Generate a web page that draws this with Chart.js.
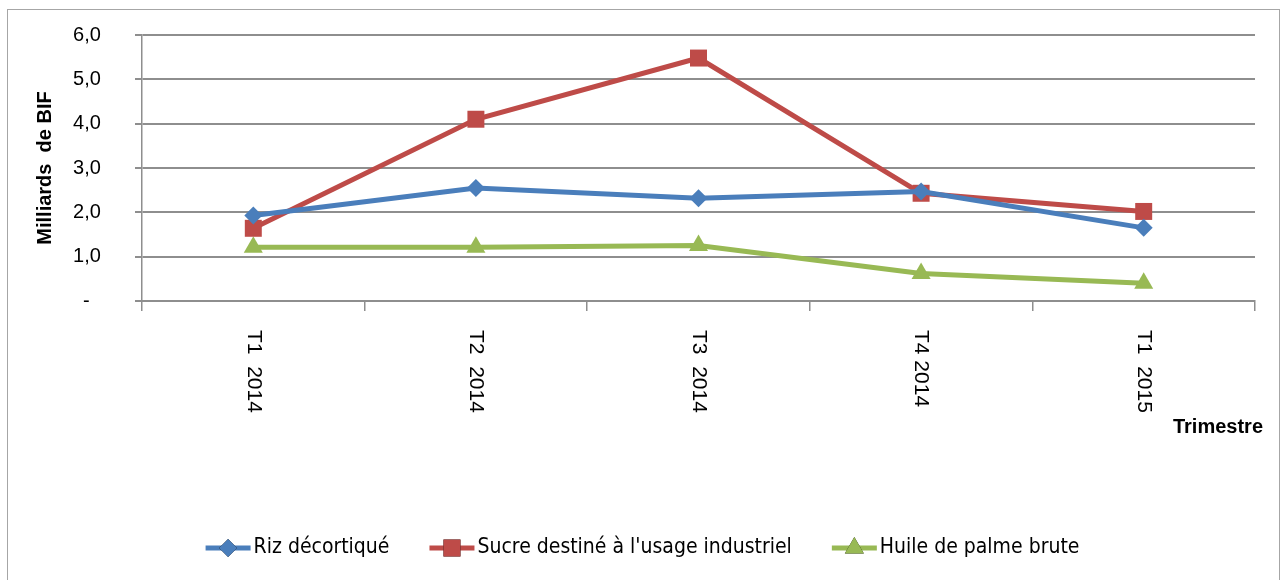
<!DOCTYPE html>
<html>
<head>
<meta charset="utf-8">
<script src="https://cdn.jsdelivr.net/npm/chart.js@4"></script>
<style>
  html, body { margin: 0; padding: 0; background: #fff; }
  #wrap { position: relative; width: 1285px; height: 580px; }
  #frame { position: absolute; left: 7px; top: 9px; width: 1273px; height: 580px; border: 1px solid #a6a6a6; box-sizing: border-box; }
  canvas { position: absolute; left: 0; top: 0; }
</style>
</head>
<body>
<div id="wrap">
  <div id="frame"></div>
  <canvas id="chart" width="1285" height="580"></canvas>
</div>
<script>
// data
const categories = ['T1  2014', 'T2  2014', 'T3  2014', 'T4 2014', 'T1  2015'];
const riz = [1.93, 2.55, 2.32, 2.47, 1.65];
const sucre = [1.64, 4.10, 5.48, 2.43, 2.02];
const huile = [1.21, 1.21, 1.25, 0.62, 0.40];
const yTicks = [0, 1, 2, 3, 4, 5, 6];

const seriesNames = ['Riz décortiqué', "Sucre destiné à l'usage industriel", 'Huile de palme brute'];
const colors = ['#4a7ebb', '#be4b48', '#98b954'];

const fam = "'Liberation Sans', Arial, sans-serif";
const tickFont = { family: fam, size: 20 };
const legendFont = "21px 'Liberation Sans Narrow', 'DejaVu Sans Condensed', sans-serif";
const gridColor = '#8e8e8e';

// rotated x labels, Trimestre, and the line+marker legend
const extras = {
  id: 'extras',
  afterDraw(chart) {
    const ctx = chart.ctx;
    const xs = chart.scales.x;
    const area = chart.chartArea;
    ctx.save();
    ctx.fillStyle = '#000';
    ctx.font = '21px ' + fam;
    ctx.textAlign = 'left';
    ctx.textBaseline = 'middle';
    categories.forEach((lab, i) => {
      const x = xs.getPixelForValue(i);
      ctx.save();
      ctx.translate(x, area.bottom + 29);
      ctx.rotate(Math.PI / 2);
      ctx.fillText(lab, 0, 0);
      ctx.restore();
    });

    ctx.font = 'bold 20px ' + fam;
    ctx.textAlign = 'right';
    ctx.fillText('Trimestre', area.right + 8, area.bottom + 126);

    // legend
    ctx.font = legendFont;
    ctx.textBaseline = 'middle';
    ctx.textAlign = 'left';
    const lineLen = 45, gapText = 3, gapItem = 40;
    const widths = chart.data.datasets.map(ds => lineLen + gapText + ctx.measureText(ds.label).width);
    const total = widths.reduce((a, b) => a + b, 0) + gapItem * (widths.length - 1);
    let x = (chart.width - total) / 2;
    const y = 548;
    chart.data.datasets.forEach((ds, i) => {
      ctx.strokeStyle = ds.borderColor;
      ctx.lineWidth = 5;
      ctx.beginPath();
      ctx.moveTo(x, y);
      ctx.lineTo(x + lineLen, y);
      ctx.stroke();
      Chart.helpers.drawPoint(ctx, {
        pointStyle: ds.pointStyle,
        radius: ds.pointRadius,
        borderWidth: 0,
        rotation: 0
      }, x + lineLen / 2, y);
      ctx.fillStyle = ds.borderColor;
      ctx.fill();
      ctx.fillStyle = '#000';
      ctx.fillText(ds.label, x + lineLen + gapText, y);
      x += widths[i] + gapItem;
    });
    ctx.restore();
  }
};

function mk(name, data, color, style, r) {
  return {
    label: name,
    data: data,
    borderColor: color,
    backgroundColor: color,
    borderWidth: 5,
    pointStyle: style,
    pointRadius: r,
    pointHoverRadius: r,
    pointBorderWidth: 0,
    tension: 0
  };
}

new Chart(document.getElementById('chart'), {
  type: 'line',
  data: {
    labels: categories,
    datasets: [
      mk(seriesNames[0], riz, colors[0], 'rectRot', 9),
      mk(seriesNames[1], sucre, colors[1], 'rect', 12),
      mk(seriesNames[2], huile, colors[2], 'triangle', 11)
    ]
  },
  options: {
    responsive: false,
    animation: false,
    layout: { padding: { left: 33, right: 30, top: 35, bottom: 0 } },
    plugins: {
      legend: { display: false },
      tooltip: { enabled: false }
    },
    scales: {
      x: {
        offset: true,
        grid: { offset: true, drawOnChartArea: false, color: gridColor, lineWidth: 1.5, tickLength: 10 },
        border: { color: gridColor, width: 2 },
        ticks: { display: false },
        afterFit(scale) { scale.height = 279; }
      },
      y: {
        min: 0,
        max: 6,
        afterBuildTicks(scale) { scale.ticks = yTicks.map(v => ({ value: v })); },
        grid: { color: gridColor, lineWidth: 2, tickLength: 7 },
        border: { color: gridColor, width: 1.5 },
        ticks: {
          color: '#000',
          font: tickFont,
          padding: 23,
          // trailing spaces keep the labels clear of the axis like the original
          callback: v => v === 0 ? '-    ' : v.toFixed(1).replace('.', ',') + '  '
        },
        title: {
          display: true,
          text: 'Milliards  de BIF',
          color: '#000',
          font: { family: fam, size: 20, weight: 'bold' },
          padding: { top: 0, bottom: 0 }
        },
        afterFit(scale) { scale.width = 109; }
      }
    }
  },
  plugins: [extras]
});
</script>
</body>
</html>
